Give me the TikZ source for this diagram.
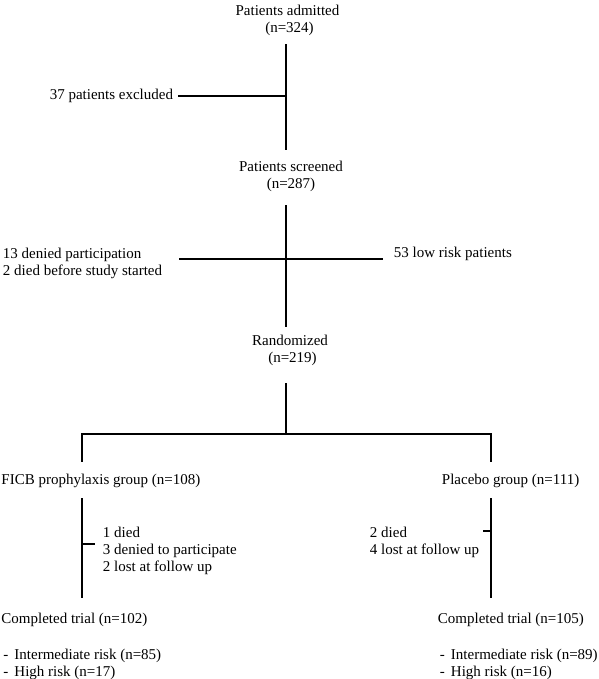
\documentclass[tikz,border=0pt]{standalone}
\usepackage{fontspec}
\setmainfont{Liberation Serif}
\usepackage{tikz}
\usetikzlibrary{positioning}

\begin{document}
\begin{tikzpicture}[x=1pt,y=-1pt,line width=1.9pt,
    every node/.style={inner sep=0pt,font=\fontsize{15}{17}\selectfont},
    stage/.style={align=center,anchor=north},
    side/.style={align=left,anchor=north west}]
    \useasboundingbox (0,0) rectangle (598,679);
    \coordinate (axis) at (286,0);

    \node[stage] (adm) at (287.5,3.8) {Patients admitted\\\hspace{4pt}(n=324)};
    \node[anchor=base east] (excl) at (174,100) {37 patients excluded};
    \node[stage] (scr) at (291,159.8) {Patients screened\\(n=287)};
    \node[side] (deny) at (2,246.8) {13 denied participation\\2 died before study started};
    \node[anchor=base west] (lowr) at (393,257) {53 low risk patients};
    \node[stage] (rnd) at (290,333.8) {Randomized\\\hspace{5pt}(n=219)};

    \node[anchor=base west] (ficb) at (0.5,484) {FICB prophylaxis group (n=108)};
    \node[anchor=base west] (plac) at (441,484) {Placebo group (n=111)};
    \node[side] (lossL) at (102,525.8) {1 died\\3 denied to participate\\2 lost at follow up};
    \node[side] (lossR) at (369,525.8) {2 died\\4 lost at follow up};
    \node[anchor=base west] (doneL) at (0.5,623) {Completed trial (n=102)};
    \node[anchor=base west] (doneR) at (437,623) {Completed trial (n=105)};
    \node[side] (riskL) [below right=20.6pt and 2pt of doneL.south west]
        {-\hspace{6pt}Intermediate risk (n=85)\\-\hspace{6pt}High risk (n=17)};
    \node[side] (riskR) [below right=20.6pt and 2pt of doneR.south west]
        {-\hspace{6pt}Intermediate risk (n=89)\\-\hspace{6pt}High risk (n=16)};

    % spine
    \coordinate (cross) at (286,259);
    \coordinate (split) at (286,434);
    \coordinate (armL) at (82,434);
    \coordinate (armR) at (491,434);
    \draw[shorten <=8pt,shorten >=10pt] (axis |- adm.south) -- (axis |- scr.north);
    \draw[shorten <=4pt] (excl.east) -- (excl.east -| axis);
    \draw[shorten <=13pt,shorten >=7pt] (axis |- scr.south) -- (axis |- rnd.north);
    \draw[shorten <=16pt] (deny.east |- cross) -- (cross);
    \draw[shorten >=10pt] (cross) -- (lowr.west |- cross);
    \draw[shorten <=17pt] (axis |- rnd.south) -- (split);
    \draw[shorten <=11pt,shorten >=11pt]
        (armL |- ficb.north) -- (armL) -- (armR) -- (armR |- plac.north);

    % arms
    \coordinate (tickL) at (82,544);
    \coordinate (tickR) at (491,531);
    \draw[shorten <=10pt,shorten >=14pt] (armL |- ficb.south) -- (armL |- doneL.north);
    \draw[shorten <=10pt,shorten >=14pt] (armR |- plac.south) -- (armR |- doneR.north);
    \draw[shorten >=7pt] (tickL) -- (tickL -| lossL.west);
    \draw[shorten >=3pt] (tickR) -- (tickR -| lossR.east);
\end{tikzpicture}
\end{document}
